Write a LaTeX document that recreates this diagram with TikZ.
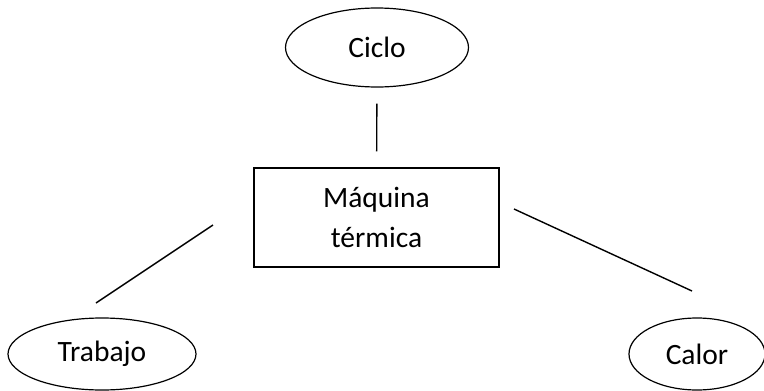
\documentclass[tikz,border=0pt]{standalone}
\usepackage{fontspec}
\setmainfont{Carlito}
\usetikzlibrary{shapes.geometric}
\begin{document}
\begin{tikzpicture}[x=1pt,y=-1pt,
  every node/.style={font=\fontsize{29.5}{40}\selectfont, inner sep=0pt},
  oval/.style={draw, ellipse, line width=1.2pt},
  box/.style={draw, rectangle, line width=1.4pt, align=center},
  link/.style={line width=1.4pt}]
  \useasboundingbox (0,0) rectangle (764,391);
  % concept nodes
  \node[oval, minimum width=183pt, minimum height=79pt] (ciclo) at (377,47.5) {Ciclo};
  \node[box, minimum width=245pt, minimum height=99pt] (maq) at (376.5,217.5) {Máquina\\térmica};
  \node[oval, minimum width=188pt, minimum height=72pt] (trabajo) at (102,354) {Trabajo};
  \node[oval, minimum width=136pt, minimum height=72pt] (calor) at (697,354) {Calor};
  % loose ends of the side links
  \coordinate (wA) at (213,225);
  \coordinate (wB) at (96,303);
  \coordinate (qA) at (514,209);
  \coordinate (qB) at (692,291);
  % links
  \draw[link, shorten <=16pt, shorten >=16pt] (ciclo) -- (maq);
  \draw[link] (wA) -- (wB);
  \draw[link] (qA) -- (qB);
\end{tikzpicture}
\end{document}
